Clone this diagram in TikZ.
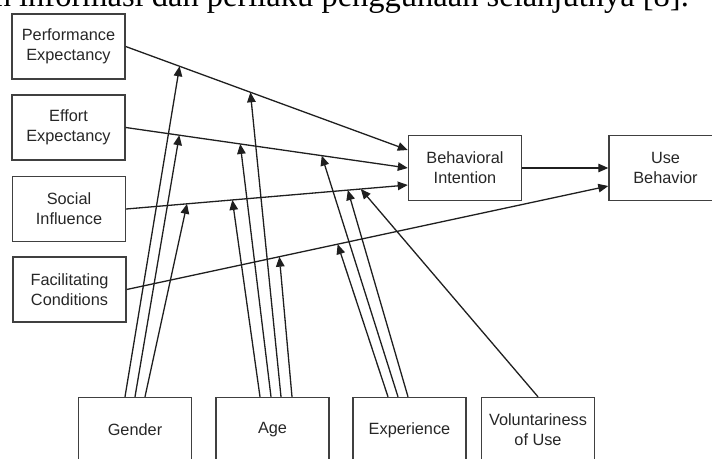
\documentclass[tikz,border=0pt]{standalone}
\usepackage{fontspec}
\setmainfont{Liberation Sans}
\newfontfamily\bodyserif{Liberation Serif}
\usetikzlibrary{arrows.meta,positioning,calc}

\begin{document}
\begin{tikzpicture}[
  x=1pt, y=-1pt,
  font=\fontsize{16.3}{20}\selectfont,
  utbox/.style={draw=black!75, line width=1.4pt, align=center, inner sep=0pt,
               minimum width=113pt, minimum height=65pt, text=black!85},
  flow/.style={-{Triangle[length=10pt,width=8.5pt]}, line width=1.3pt, draw=black!88},
  bodytext/.style={anchor=base east, inner sep=0pt, text=black,
               font=\bodyserif\fontsize{32.5}{38}\selectfont}
]
\useasboundingbox (0,0) rectangle (712,458);
\clip (0,0) rectangle (712,458);
\node[bodytext] (para) at (689,6) {n informasi dan perilaku penggunaan selanjutnya [8].};

\node[utbox] (pe) at (68.5,46.5) {Performance\\Expectancy};
\node[utbox] (ee) at (68.5,127.5) {Effort\\Expectancy};
\node[utbox] (si) at (69,209) {Social\\Influence};
\node[utbox] (fc) at (69.5,289.5) {Facilitating\\Conditions};
\node[utbox] (bi) at (465,168) {Behavioral\\Intention};
\node[utbox] (ub) at (665.5,168) {Use\\Behavior};
\node[utbox] (gen) at (135,430) {Gender};
\node[utbox] (age) at (272.5,430) {Age};
\node[utbox] (exp) at (409.5,430) {Experience};
\node[utbox] (vol) at (538,430) {Voluntariness\\of Use};

\draw[flow] (pe.east) -- ($(bi.west)+(0,-18)$)
  coordinate[pos=0.191] (pe-gen) coordinate[pos=0.442] (pe-age);
\draw[flow] (ee.east) -- (bi.west)
  coordinate[pos=0.19] (ee-gen) coordinate[pos=0.406] (ee-age)
  coordinate[pos=0.695] (ee-exp);
\draw[flow] (si.east) -- ($(bi.west)+(0,17)$)
  coordinate[pos=0.216] (si-gen) coordinate[pos=0.377] (si-age)
  coordinate[pos=0.787] (si-exp) coordinate[pos=0.833] (si-vol);
\draw[flow] (fc.east) -- ($(ub.west)+(0,18)$)
  coordinate[pos=0.317] (fc-age) coordinate[pos=0.438] (fc-exp);
\draw[flow] (bi.east) -- (ub.west);

\draw[flow] ($(gen.north)+(-10,0)$) -- (pe-gen);
\draw[flow] (gen.north) -- (ee-gen);
\draw[flow] ($(gen.north)+(10,0)$) -- (si-gen);

\draw[flow] ($(age.north)+(-12.5,0)$) -- (si-age);
\draw[flow] ($(age.north)+(-1.5,0)$) -- (ee-age);
\draw[flow] ($(age.north)+(8.5,0)$) -- (pe-age);
\draw[flow] ($(age.north)+(19.5,0)$) -- (fc-age);

\draw[flow] ($(exp.north)+(-21.5,0)$) -- (fc-exp);
\draw[flow] ($(exp.north)+(-11.5,0)$) -- (ee-exp);
\draw[flow] ($(exp.north)+(-1.5,0)$) -- (si-exp);

\draw[flow] (vol.north) -- (si-vol);
\end{tikzpicture}
\end{document}
